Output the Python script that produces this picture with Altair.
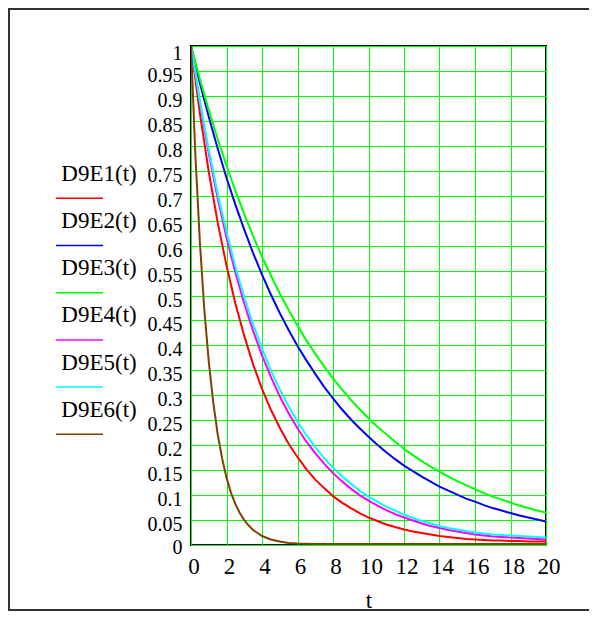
import altair as alt
import pandas as pd

# ---- data ----
t = [0, 0.5, 1, 1.5, 2, 2.5, 3, 3.5, 4, 4.5, 5, 5.5, 6, 6.5, 7, 7.5, 8, 8.5, 9, 9.5,
     10, 10.5, 11, 11.5, 12, 12.5, 13, 13.5, 14, 14.5, 15, 15.5, 16, 16.5, 17, 17.5,
     18, 18.5, 19, 19.5, 20]

d9e1 = [1.000, 0.865, 0.748, 0.647, 0.560, 0.484, 0.419, 0.362, 0.313, 0.271, 0.235,
        0.203, 0.176, 0.152, 0.131, 0.114, 0.098, 0.085, 0.074, 0.064, 0.055, 0.048,
        0.041, 0.036, 0.031, 0.027, 0.024, 0.021, 0.018, 0.016, 0.014, 0.012, 0.011,
        0.010, 0.009, 0.009, 0.008, 0.008, 0.007, 0.007, 0.007]
d9e2 = [1.000, 0.926, 0.858, 0.795, 0.736, 0.682, 0.632, 0.585, 0.542, 0.502, 0.465,
        0.431, 0.399, 0.370, 0.343, 0.317, 0.294, 0.272, 0.252, 0.234, 0.217, 0.201,
        0.186, 0.172, 0.159, 0.148, 0.137, 0.127, 0.117, 0.109, 0.101, 0.093, 0.087,
        0.080, 0.074, 0.069, 0.064, 0.059, 0.055, 0.051, 0.047]
d9e3 = [1.000, 0.934, 0.872, 0.814, 0.760, 0.710, 0.663, 0.619, 0.578, 0.540, 0.504,
        0.471, 0.440, 0.410, 0.383, 0.358, 0.334, 0.312, 0.291, 0.272, 0.254, 0.237,
        0.222, 0.207, 0.193, 0.180, 0.168, 0.157, 0.147, 0.137, 0.128, 0.120, 0.112,
        0.104, 0.097, 0.091, 0.085, 0.079, 0.074, 0.069, 0.065]
d9e4 = [1.000, 0.886, 0.785, 0.696, 0.616, 0.546, 0.484, 0.429, 0.380, 0.337, 0.298,
        0.264, 0.234, 0.207, 0.184, 0.163, 0.144, 0.128, 0.113, 0.100, 0.089, 0.079,
        0.070, 0.062, 0.055, 0.049, 0.043, 0.038, 0.034, 0.030, 0.027, 0.024, 0.021,
        0.019, 0.017, 0.016, 0.015, 0.014, 0.013, 0.012, 0.011]
d9e5 = [1.000, 0.890, 0.792, 0.705, 0.628, 0.558, 0.497, 0.442, 0.394, 0.350, 0.312,
        0.278, 0.247, 0.220, 0.196, 0.174, 0.155, 0.138, 0.123, 0.109, 0.097, 0.087,
        0.077, 0.069, 0.061, 0.054, 0.048, 0.043, 0.038, 0.034, 0.031, 0.028, 0.025,
        0.023, 0.021, 0.020, 0.019, 0.018, 0.017, 0.016, 0.015]

t6 = [0, 0.25, 0.5, 0.75, 1, 1.25, 1.5, 1.75, 2, 2.25, 2.5, 2.75, 3, 3.25, 3.5, 3.75,
      4, 4.5, 5, 5.5, 6, 7, 8, 10, 12, 14, 16, 18, 20]
d9e6 = [1.000, 0.779, 0.607, 0.472, 0.368, 0.287, 0.223, 0.174, 0.135, 0.105, 0.082,
        0.064, 0.050, 0.039, 0.030, 0.024, 0.018, 0.011, 0.007, 0.004, 0.003, 0.002,
        0.002, 0.002, 0.002, 0.002, 0.002, 0.002, 0.002]

names = ["D9E1(t)", "D9E2(t)", "D9E3(t)", "D9E4(t)", "D9E5(t)", "D9E6(t)"]
colors = ["#ff0000", "#0000ff", "#00ff00", "#ff00ff", "#00ffff", "#804000"]

x_ticks = [0, 2, 4, 6, 8, 10, 12, 14, 16, 18, 20]
y_ticks = [0, 0.05, 0.1, 0.15, 0.2, 0.25, 0.3, 0.35, 0.4, 0.45, 0.5, 0.55, 0.6, 0.65,
           0.7, 0.75, 0.8, 0.85, 0.9, 0.95, 1]

# ---- build long table ----
series_data = [(names[0], t, d9e1), (names[1], t, d9e2), (names[2], t, d9e3),
               (names[3], t, d9e4), (names[4], t, d9e5), (names[5], t6, d9e6)]
rows = []
for name, ts, vs in series_data:
    for a, b in zip(ts, vs):
        rows.append({"series": name, "t": a, "v": b})
df = pd.DataFrame(rows)

FONT = "Liberation Serif"
color_scale = alt.Scale(domain=names, range=colors)

y_label_offset = {"condition": [{"test": "datum.value == 1", "value": 7},
                                {"test": "datum.value == 0", "value": 2}],
                  "value": 4.5}

lines = alt.Chart(df).mark_line(strokeWidth=2, clip=True).encode(
    x=alt.X("t:Q", scale=alt.Scale(domain=[0, 20], nice=False),
            axis=alt.Axis(values=x_ticks, title="t", labelFontSize=23, labelPadding=10,
                          labelOffset=2.5, labelFlush=False, labelOverlap=False,
                          titleFontSize=23, titleY=62, titleBaseline="alphabetic")),
    y=alt.Y("v:Q", scale=alt.Scale(domain=[0, 1], nice=False),
            axis=alt.Axis(values=y_ticks, title=None, format=".2~f", labelFontSize=20,
                          labelPadding=9, labelOffset=y_label_offset, labelFlush=False,
                          labelOverlap=False)),
    color=alt.Color("series:N", scale=color_scale, legend=None),
)

# ---- legend drawn as marks (label above a line sample) ----
leg_df = pd.DataFrame({"series": names})
leg_y = alt.Y("series:N",
              scale=alt.Scale(type="point", domain=names, range=[152.3, 388.3], padding=0),
              axis=None)
leg_text = alt.Chart(leg_df).mark_text(font=FONT, fontSize=23, dy=-17.6,
                                       baseline="alphabetic", align="center",
                                       color="black").encode(
    x=alt.value(-92), y=leg_y, text="series:N")
leg_rule = alt.Chart(leg_df).mark_rule(strokeWidth=1.5).encode(
    x=alt.value(-135), x2=alt.value(-88), y=leg_y,
    color=alt.Color("series:N", scale=color_scale, legend=None))
legend = alt.layer(leg_text, leg_rule)

# ---- outer frame ----
frame = alt.Chart(pd.DataFrame({"k": [0]})).mark_rect(
    filled=False, stroke="#333333", strokeWidth=2).encode(
    x=alt.value(-182), x2=alt.value(420), y=alt.value(-37), y2=alt.value(564))

chart = alt.layer(lines, legend, frame).resolve_scale(y="independent").properties(
    width=355, height=499,
    autosize=alt.AutoSizeParams(type="none"),
    padding={"left": 183, "top": 38, "right": 43, "bottom": 66},
    background="white",
).configure_view(
    stroke="black", strokeWidth=2
).configure_axis(
    domain=False, ticks=False, grid=True, gridColor="#00ff00", gridWidth=1,
    gridOpacity=1, labelFont=FONT, titleFont=FONT, labelColor="black",
    titleColor="black", titleFontWeight="normal"
)

chart.save("out.html", embed_options={"renderer": "svg", "actions": False})
